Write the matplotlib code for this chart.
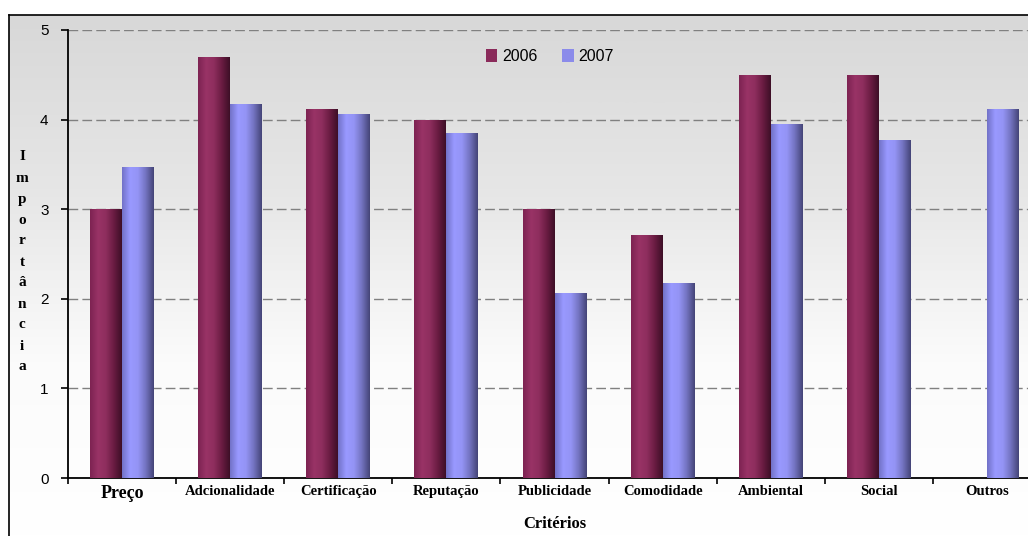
import matplotlib.pyplot as plt
import numpy as np
from matplotlib.patches import Patch
from matplotlib.colors import LinearSegmentedColormap

categories = ["Preço", "Adcionalidade", "Certificação", "Reputação", "Publicidade",
              "Comodidade", "Ambiental", "Social", "Outros"]
v2006 = [3.0, 4.7, 4.12, 4.0, 3.0, 2.71, 4.5, 4.5, 0]
v2007 = [3.47, 4.17, 4.06, 3.85, 2.06, 2.18, 3.95, 3.77, 4.12]
yticks = [0, 1, 2, 3, 4, 5]

fig = plt.figure(figsize=(10.28, 5.36), dpi=100)

# background panel with grey -> white gradient and the black frame
bg = fig.add_axes([9 / 1028, 0, 1 - 9 / 1028, 1 - 15 / 536])
grad = np.linspace(0, 1, 256).reshape(-1, 1)
bgcmap = LinearSegmentedColormap.from_list("bg", ["#d8d8d8", "#e6e6e6", "#fbfbfb", "#ffffff"])
bg.imshow(grad, cmap=bgcmap, aspect="auto", extent=[0, 1, 0, 1], origin="upper")
bg.set_xlim(0, 1)
bg.set_ylim(0, 1)
bg.set_xticks([])
bg.set_yticks([])
for s in ["right", "bottom"]:
    bg.spines[s].set_visible(False)
bg.spines["left"].set_linewidth(1.2)
bg.spines["top"].set_linewidth(1.2)

ax = fig.add_axes([68 / 1028, 1 - 478 / 536, (1041 - 68) / 1028, 448 / 536])
ax.patch.set_alpha(0)

x = np.arange(len(categories))
w = 0.295
cmap06 = LinearSegmentedColormap.from_list("m", ["#7d2352", "#993366", "#8e2e5e", "#6a1c42", "#3e0f27"])
cmap07 = LinearSegmentedColormap.from_list("b", ["#7272c8", "#9999ff", "#9494f5", "#7373c0", "#454578"])
hgrad = np.linspace(0, 1, 64).reshape(1, -1)

def draw(xs, vals, cmap, color):
    bars = ax.bar(xs, vals, w, color=color, zorder=3, linewidth=0)
    for b in bars:
        if b.get_height() <= 0:
            continue
        im = ax.imshow(hgrad, cmap=cmap, aspect="auto", zorder=3,
                       extent=[b.get_x(), b.get_x() + b.get_width(), 0, b.get_height()])
        im.set_clip_path(b)

draw(x - w / 2, v2006, cmap06, "#993366")
draw(x + w / 2, v2007, cmap07, "#9999ff")

ax.set_xlim(-0.5, len(categories) - 0.5)
ax.set_ylim(0, 5)
ax.set_yticks(yticks)
ax.set_yticklabels([str(t) for t in yticks], fontsize=11, family="Liberation Sans")
ax.yaxis.grid(True, color="#808080", linestyle=(0, (7, 3)), linewidth=1.0, zorder=1)
ax.set_axisbelow(True)

ax.set_xticks(np.arange(len(categories) + 1) - 0.5)
ax.set_xticklabels([])
ax.set_xticks(x, minor=True)
ax.set_xticklabels(categories, minor=True, family="Liberation Serif", fontweight="bold", fontsize=10.5)
ax.get_xticklabels(minor=True)[0].set_fontsize(13)
ax.tick_params(axis="x", which="minor", length=0, pad=5)
ax.tick_params(axis="x", which="major", length=4, width=1.2, direction="out")
ax.tick_params(axis="y", length=5, width=1.2, direction="out", pad=9)
for s in ["top", "right"]:
    ax.spines[s].set_visible(False)
ax.spines["left"].set_linewidth(1.3)
ax.spines["bottom"].set_linewidth(1.3)

ax.set_xlabel("Critérios", family="Liberation Serif", fontweight="bold", fontsize=12, labelpad=10)

fig.text(22 / 1028, 1 - 262 / 536, "\n".join("Importância"), family="Liberation Serif",
         fontweight="bold", fontsize=11, ha="center", va="center", linespacing=1.8)

ax.legend(handles=[Patch(facecolor="#8a2a5a", label="2006"), Patch(facecolor="#8b8bea", label="2007")],
          loc="center", bbox_to_anchor=(0.495, 0.94), ncol=2, frameon=False,
          handlelength=0.75, handleheight=0.85, handletextpad=0.3, columnspacing=1.5,
          prop={"family": "Liberation Sans", "size": 11.5})

fig.savefig("out.png", dpi=100)
